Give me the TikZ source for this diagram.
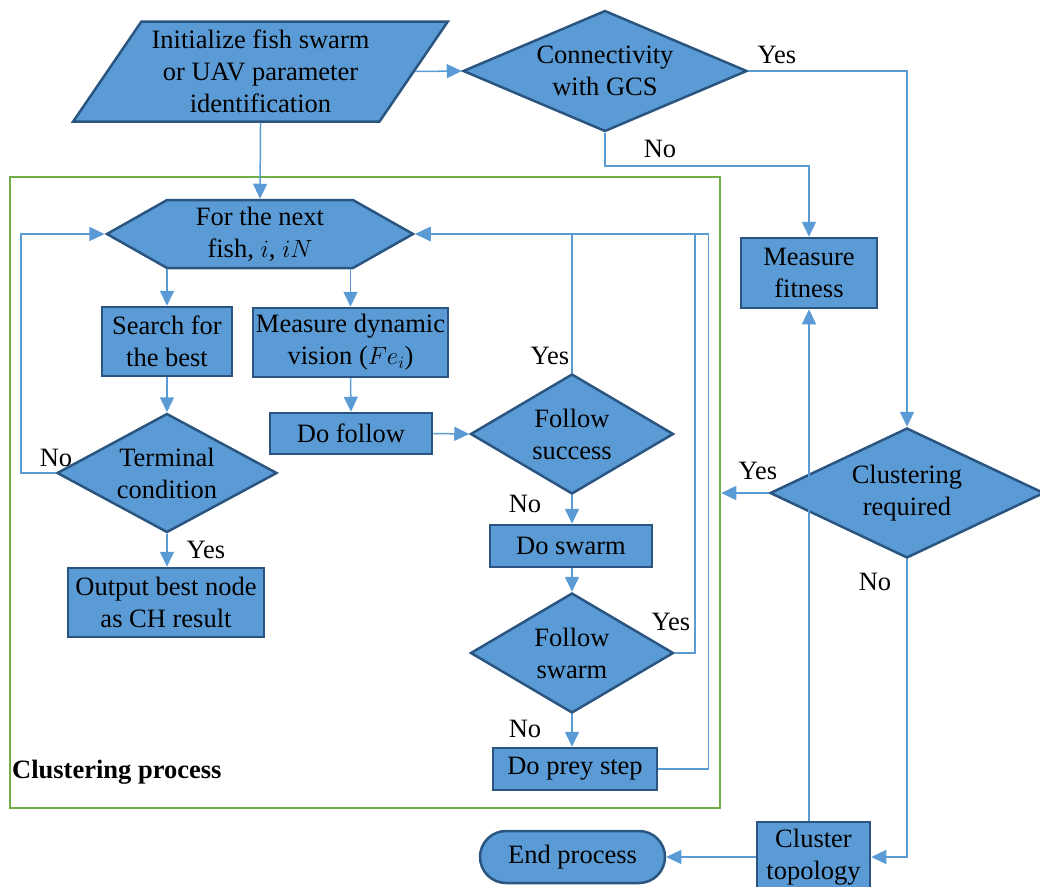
\documentclass[tikz,border=0pt]{standalone}
\usepackage{fontspec}
\setmainfont{Liberation Serif}
\usetikzlibrary{shapes.geometric,shapes.symbols,arrows.meta}

\definecolor{boxfill}{HTML}{5B9BD5}
\definecolor{boxedge}{HTML}{2A5580}
\definecolor{linkblue}{HTML}{5B9BD5}
\definecolor{framegreen}{HTML}{70AD47}

\begin{document}
\begin{tikzpicture}[
            x=1pt, y=-1pt,
            every node/.style={font=\fontsize{26.5}{32}\selectfont},
            block/.style={rectangle, draw=boxedge, fill=boxfill, line width=2.5pt, align=center, inner sep=0pt},
            decision/.style={diamond, draw=boxedge, fill=boxfill, line width=2.5pt, align=center, inner sep=0pt},
            flow/.style={-{Triangle[length=15pt,width=14pt]}, draw=linkblue, line width=1.5pt},
            lbl/.style={inner sep=0pt, anchor=base}
        ]
        \useasboundingbox (0,0) rectangle (1040,886);

        % clustering frame
        \node[draw=framegreen, line width=2.5pt, inner sep=0pt, minimum width=710pt, minimum height=631pt] (frame) at (365,492.5) {};
        \node[inner sep=0pt, anchor=base west, font=\fontsize{26.5}{32}\selectfont\bfseries] (ptitle) at (12,778) {Clustering process};

        % start
        \node[trapezium, trapezium left angle=53, trapezium right angle=127, trapezium stretches=true,
            draw=boxedge, fill=boxfill, line width=2.5pt, align=center, inner sep=0pt,
            minimum width=375pt, minimum height=100pt] (init) at (260.5,71.5) {Initialize fish swarm\\or UAV parameter\\identification};
        \node[decision, aspect=2.35, minimum width=284pt, minimum height=121pt] (conn) at (605,71) {Connectivity\\with GCS};

        % fish loop
        \node[signal, signal to=west and east, signal pointer angle=59, draw=boxedge, fill=boxfill, line width=2.5pt,
            align=center, inner sep=0pt, minimum width=306pt, minimum height=68pt] (next) at (260,234) {For the next\\fish, $i$, $iN$};
        \node[block, minimum width=130pt, minimum height=69pt] (search) at (167,341.5) {Search for\\the best};
        \node[block, minimum width=195pt, minimum height=69pt] (dyn) at (350.5,342.5) {Measure dynamic\\vision ($Fe_i$)};
        \node[decision, aspect=1.85, minimum width=220pt, minimum height=119pt] (term) at (167,473) {Terminal\\condition};
        \node[block, minimum width=196pt, minimum height=69pt] (outp) at (166,602.5) {Output best node\\as CH result};
        \node[block, minimum width=162pt, minimum height=41pt] (follow) at (351,433.5) {Do follow};
        \node[decision, aspect=1.7, minimum width=203pt, minimum height=120pt] (fsucc) at (572,434) {Follow\\success};
        \node[block, minimum width=162pt, minimum height=42pt] (dswarm) at (571,546) {Do swarm};
        \node[decision, aspect=1.7, minimum width=203pt, minimum height=120pt] (fswarm) at (572,653) {Follow\\swarm};
        \node[block, minimum width=164pt, minimum height=42pt] (prey) at (575,769) {Do prey step};

        % right column
        \node[block, minimum width=136pt, minimum height=70pt] (fit) at (809,273) {Measure\\fitness};
        \node[decision, aspect=2.1, minimum width=274pt, minimum height=130pt] (clus) at (907,493) {Clustering\\required};
        \node[block, minimum width=113pt, minimum height=70pt] (topo) at (813.5,857) {Cluster\\topology};
        \node[block, rounded corners=26pt, minimum width=185pt, minimum height=52pt] (endp) at (572.5,857) {End process};

        % connectors
        \draw[flow] (init.east) -- (conn.west);
        \draw[flow] (init.south) -- (next.north);
        \draw[flow] (conn.east) -| (clus.north);
        \draw[flow] (conn.south) -- ++(0,33) -| (fit.north);
        \draw[flow] (next.south -| search.north) -- (search.north);
        \draw[flow] (next.south -| dyn.north) -- (dyn.north);
        \draw[flow] (search.south) -- (term.north);
        \draw[flow] (term.south) -- (outp.north -| term.south);
        \draw[flow] (term.west) -- ++(-35,0) |- (next.west);
        \draw[flow] (dyn.south) -- (follow.north);
        \draw[flow] (follow.east) -- (fsucc.west);
        \draw[flow] (fsucc.north) |- (next.east);
        \draw[flow] (fsucc.south) -- (fsucc.south |- dswarm.north);
        \draw[flow] (dswarm.south -| fswarm.north) -- (fswarm.north);
        \draw[flow] (fswarm.east) -- ++(20,0) |- (next.east);
        \draw[flow] (fswarm.south) -- (fswarm.south |- prey.north);
        \draw[flow] (prey.east) -- ++(50,0) |- (next.east);
        \draw[flow] (clus.west) -- (clus.west -| frame.east);
        \draw[flow] (clus.south) |- (topo.east);
        \draw[flow] (topo.north -| fit.south) -- (fit.south);
        \draw[flow] (topo.west) -- (endp.east);

        % yes / no labels
        \node[lbl] (yconn) at (777,63) {Yes};
        \node[lbl] (nconn) at (660,157) {No};
        \node[lbl] (nterm) at (56,466) {No};
        \node[lbl] (yterm) at (206,558) {Yes};
        \node[lbl] (ysucc) at (550,364) {Yes};
        \node[lbl] (nsucc) at (525,512) {No};
        \node[lbl] (yswarm) at (671,630) {Yes};
        \node[lbl] (nswarm) at (525,737) {No};
        \node[lbl] (yclus) at (758,479) {Yes};
        \node[lbl] (nclus) at (875,590) {No};
    \end{tikzpicture}
\end{document}
